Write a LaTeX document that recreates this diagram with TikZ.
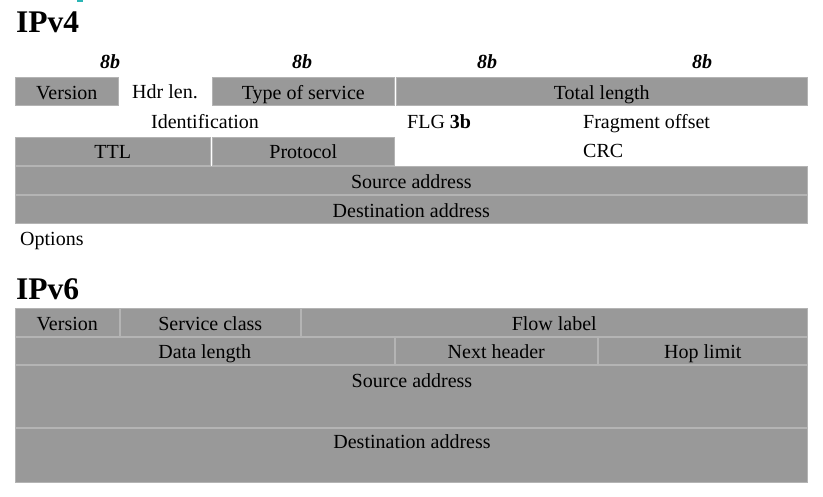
\documentclass[tikz,border=0pt]{standalone}
\usepackage{fontspec}
\setmainfont{Liberation Serif}
\definecolor{cellgray}{HTML}{999999}
\definecolor{edgegray}{HTML}{B4B4B4}
\definecolor{markcyan}{HTML}{2BB5B5}
\begin{document}
\begin{tikzpicture}[x=1pt,y=-1pt,
  cell/.style={fill=cellgray, draw=edgegray, line width=0.6pt, inner sep=0pt, anchor=north west},
  txt/.style={inner sep=0pt, anchor=base, font=\fontsize{20}{22}\selectfont},
  txtl/.style={txt, anchor=base west},
  title/.style={inner sep=0pt, anchor=base west, font=\fontsize{31.5}{34}\selectfont\bfseries},
  bits/.style={inner sep=0pt, anchor=base, font=\fontsize{20}{22}\selectfont\bfseries\itshape}]
\useasboundingbox (0,0) rectangle (823,497);
\fill[markcyan] (77,0) rectangle (83,2);
% ---------- IPv4 ----------
\node[title] (t4) at (16,33) {IPv4};
\node[bits] (b1) at (110,69) {8b};
\node[bits] (b2) at (302,69) {8b};
\node[bits] (b3) at (487,69) {8b};
\node[bits] (b4) at (702,69) {8b};
% row 1
\node[cell, minimum width=103, minimum height=28] (v4ver) at (15,77) {};
\node[cell, minimum width=182, minimum height=28] (v4tos) at (212,77) {};
\node[cell, minimum width=411, minimum height=28] (v4tot) at (396,77) {};
\node[txt] (tv4ver) at ([yshift=6pt]v4ver.south) {Version};
\node[txt] (thdr) at (165,99) {Hdr len.};
\node[txt] (tv4tos) at ([yshift=6pt]v4tos.south) {Type of service};
\node[txt] (tv4tot) at ([yshift=6pt]v4tot.south) {Total length};
% row 2
\node[txt] (tid) at (205,129) {Identification};
\node[txtl] (tflg) at (407,129) {FLG \textbf{3b}};
\node[txtl] (tfrag) at (583,129) {Fragment offset};
% row 3
\node[cell, minimum width=195, minimum height=28] (v4ttl) at (15,137) {};
\node[cell, minimum width=182, minimum height=28] (v4pro) at (212,137) {};
\node[txt] (tv4ttl) at ([yshift=7pt]v4ttl.south) {TTL};
\node[txt] (tv4pro) at ([yshift=7pt]v4pro.south) {Protocol};
\node[txtl] (tcrc) at (583,158) {CRC};
% rows 4,5
\node[cell, minimum width=792, minimum height=28] (v4src) at (15,166) {};
\node[cell, minimum width=792, minimum height=28] (v4dst) at (15,195) {};
\node[txt] (tv4src) at ([yshift=6pt]v4src.south) {Source address};
\node[txt] (tv4dst) at ([yshift=6pt]v4dst.south) {Destination address};
\node[txtl] (topt) at (20,246) {Options};
% ---------- IPv6 ----------
\node[title] (t6) at (16,300) {IPv6};
\node[cell, minimum width=104, minimum height=28] (v6ver) at (15,308) {};
\node[cell, minimum width=180, minimum height=28] (v6sc) at (120,308) {};
\node[cell, minimum width=506, minimum height=28] (v6fl) at (301,308) {};
\node[txt] (tv6ver) at ([yshift=6pt]v6ver.south) {Version};
\node[txt] (tv6sc) at ([yshift=6pt]v6sc.south) {Service class};
\node[txt] (tv6fl) at ([yshift=6pt]v6fl.south) {Flow label};
\node[cell, minimum width=379, minimum height=27] (v6dl) at (15,337) {};
\node[cell, minimum width=202, minimum height=27] (v6nh) at (395,337) {};
\node[cell, minimum width=209, minimum height=27] (v6hl) at (598,337) {};
\node[txt] (tv6dl) at ([yshift=6pt]v6dl.south) {Data length};
\node[txt] (tv6nh) at ([yshift=6pt]v6nh.south) {Next header};
\node[txt] (tv6hl) at ([yshift=6pt]v6hl.south) {Hop limit};
\node[cell, minimum width=792, minimum height=62] (v6src) at (15,365) {};
\node[cell, minimum width=792, minimum height=54] (v6dst) at (15,428) {};
\node[txt] (tv6src) at (412,388) {Source address};
\node[txt] (tv6dst) at (412,448) {Destination address};
\end{tikzpicture}
\end{document}
